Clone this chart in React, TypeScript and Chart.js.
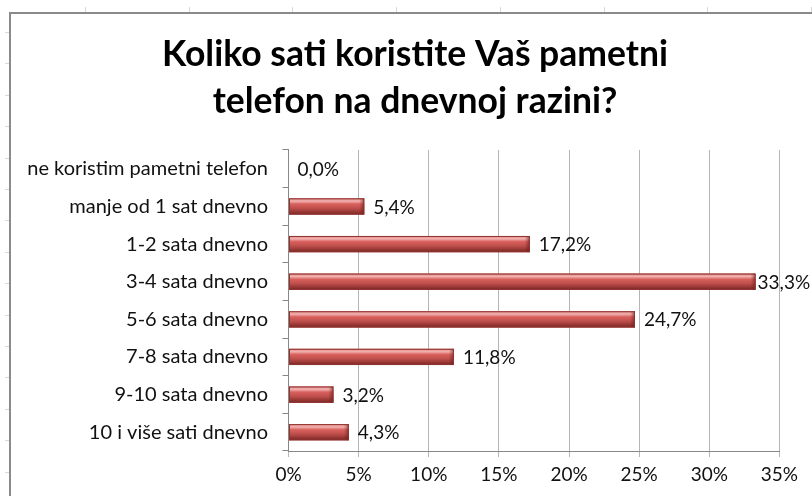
import React, { useEffect, useRef } from "react";
import { Chart, registerables } from "chart.js";

Chart.register(...registerables);

const categories = [
  "ne koristim pametni telefon",
  "manje od 1 sat dnevno",
  "1-2 sata dnevno",
  "3-4 sata dnevno",
  "5-6 sata dnevno",
  "7-8 sata dnevno",
  "9-10 sata dnevno",
  "10 i više sati dnevno",
];
const values = [0.0, 5.4, 17.2, 33.3, 24.7, 11.8, 3.2, 4.3];
const titleLines = ["Koliko sati koristite Vaš pametni", "telefon na dnevnoj razini?"];
const FONT = "Lato, 'Open Sans', sans-serif";

const barStyle = {
  id: "barStyle",
  afterDatasetsDraw(chart: any) {
    const ctx = chart.ctx;
    const meta = chart.getDatasetMeta(0);
    meta.data.forEach((el: any) => {
      const { x, y, base, height } = el.getProps(["x", "y", "base", "height"], true);
      const w = x - base;
      if (w <= 0.5) return;
      const top = y - height / 2;
      const g = ctx.createLinearGradient(0, top, 0, top + height);
      g.addColorStop(0, "#e58c89");
      g.addColorStop(0.18, "#f0b0ae");
      g.addColorStop(0.35, "#d9605c");
      g.addColorStop(0.6, "#c0504d");
      g.addColorStop(1, "#7a2523");
      ctx.save();
      ctx.fillStyle = g;
      ctx.fillRect(base, top, w, height);
      const g2 = ctx.createLinearGradient(base + w - 5, 0, base + w, 0);
      g2.addColorStop(0, "rgba(90,20,20,0)");
      g2.addColorStop(1, "rgba(90,20,20,0.55)");
      ctx.fillStyle = g2;
      ctx.fillRect(base + w - 5, top, 5, height);
      ctx.strokeStyle = "#8e3431";
      ctx.lineWidth = 1;
      ctx.strokeRect(base + 0.5, top + 0.5, w - 1, height - 1);
      ctx.restore();
    });
  },
};

const dataLabels = {
  id: "dataLabels",
  afterDatasetsDraw(chart: any) {
    const ctx = chart.ctx;
    const meta = chart.getDatasetMeta(0);
    ctx.save();
    ctx.font = `19px ${FONT}`;
    ctx.fillStyle = "#111";
    ctx.textAlign = "left";
    ctx.textBaseline = "middle";
    meta.data.forEach((el: any, i: number) => {
      const { x, y } = el.getProps(["x", "y"], true);
      const label = values[i].toFixed(1).replace(".", ",") + "%";
      ctx.fillText(label, x + (values[i] > 30 ? 2 : 9), y + 1);
    });
    ctx.restore();
  },
};

const topMarks = [0, 1, 2, 3, 4, 5, 6, 7];
const leftMarks = [0, 1, 2, 3, 4, 5, 6, 7, 8, 9, 10, 11, 12, 13, 14];

export default function App() {
  const ref = useRef<HTMLCanvasElement>(null);
  useEffect(() => {
    document.body.style.margin = "0";
    const chart = new Chart(ref.current!, {
      type: "bar",
      data: {
        labels: categories,
        datasets: [
          {
            data: values,
            backgroundColor: "#c0504d",
            borderWidth: 0,
            barPercentage: 0.43,
            categoryPercentage: 1,
          },
        ],
      },
      plugins: [barStyle, dataLabels],
      options: {
        indexAxis: "y",
        animation: false,
        responsive: false,
        maintainAspectRatio: false,
        layout: { padding: { left: 0, right: 0, top: 0, bottom: 7 } },
        plugins: {
          legend: { display: false },
          tooltip: { enabled: false },
          title: {
            display: true,
            text: titleLines,
            color: "#000",
            font: { family: FONT, size: 35.5, weight: "bold", lineHeight: 1.338 },
            padding: { top: 16.5, bottom: 24.5 },
          },
        },
        scales: {
          x: {
            min: 0,
            max: 35,
            ticks: {
              stepSize: 5,
              callback: (v: any) => v + "%",
              color: "#111",
              font: { family: FONT, size: 19 },
              padding: 6,
            },
            grid: { color: "#b5b5b5", tickLength: 6, drawTicks: true },
            border: { color: "#888" },
            afterFit: (s: any) => {
              s.height = 38;
              s.paddingRight = 39.6;
            },
          },
          y: {
            ticks: {
              color: "#111",
              font: { family: FONT, size: 20 },
              padding: 14.5,
            },
            grid: { offset: true, drawOnChartArea: false, tickLength: 6, color: "#888" },
            border: { color: "#888" },
            afterFit: (s: any) => {
              s.width = 277.5;
            },
          },
        },
      },
    });
    return () => chart.destroy();
  }, []);

  return (
    <div style={{ position: "relative", width: 812, height: 496, background: "#fff", overflow: "hidden" }}>
      {topMarks.map((k) => (
        <div
          key={"t" + k}
          style={{ position: "absolute", left: 85 + k * 103.7, top: 7, width: 1, height: 5, background: "#d8d8d8" }}
        />
      ))}
      {leftMarks.map((k) => (
        <div
          key={"l" + k}
          style={{ position: "absolute", left: 5, top: 32 + k * 31.4, width: 4, height: 1, background: "#d8d8d8" }}
        />
      ))}
      <div
        style={{
          position: "absolute",
          left: 9,
          top: 12,
          width: 820,
          height: 500,
          borderLeft: "2px solid #8a8a8a",
          borderTop: "2px solid #8a8a8a",
          boxSizing: "border-box",
        }}
      />
      <canvas ref={ref} width={808} height={482} style={{ position: "absolute", left: 11, top: 14 }} />
    </div>
  );
}
